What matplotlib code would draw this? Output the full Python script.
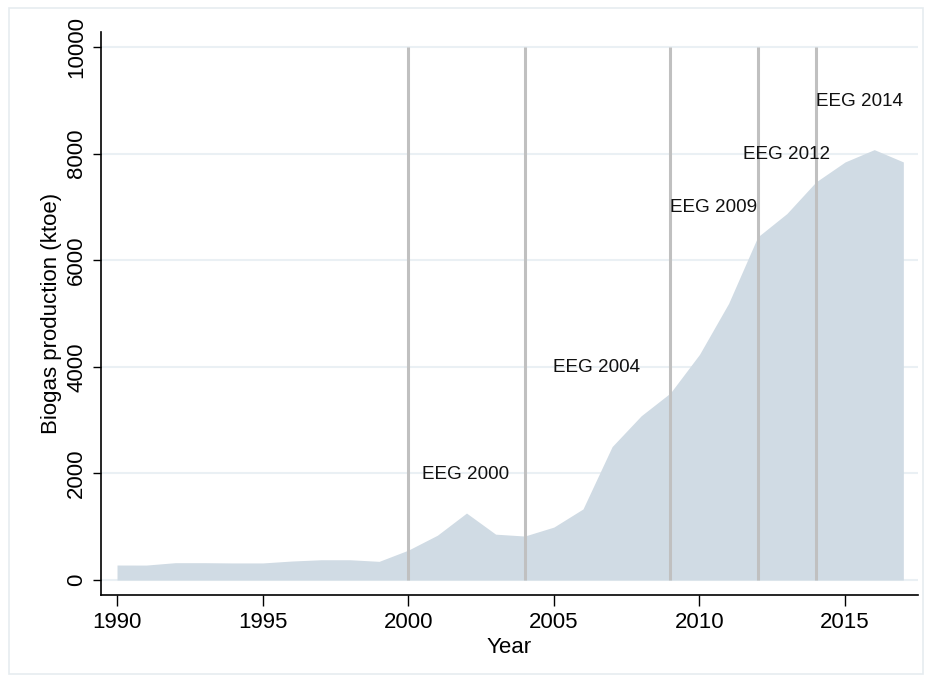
import matplotlib

matplotlib.use("Agg")
import matplotlib.pyplot as plt
from matplotlib.patches import Rectangle

plt.rcParams["font.family"] = ["Liberation Sans", "DejaVu Sans"]

YEARS = list(range(1990, 2018))
BIOGAS_KTOE = [
    281, 280, 325, 325, 320, 320, 356, 380, 380, 350,
    560, 840, 1256, 860, 825, 993, 1333, 2503, 3082, 3509,
    4233, 5190, 6437, 6875, 7469, 7844, 8075, 7844,
]

EEG_YEARS = [2000, 2004, 2009, 2012, 2014]
EEG_LABELS = ["EEG 2000", "EEG 2004", "EEG 2009", "EEG 2012", "EEG 2014"]
LABEL_X = [2000.48, 2004.97, 2008.99, 2011.5, 2014.0]
LABEL_Y = [1980, 3980, 6980, 7980, 8980]

Y_TICKS = [0, 2000, 4000, 6000, 8000, 10000]
X_TICKS = [1990, 1995, 2000, 2005, 2010, 2015]

FILL_COLOR = "#d0dbe4"
LINE_COLOR = "#c0c0c0"
GRID_COLOR = "#eaf0f4"


def main() -> None:
    fig = plt.figure(figsize=(9.3, 6.82), dpi=100)
    fig.patches.append(
        Rectangle((0.010, 0.012), 0.982, 0.976, transform=fig.transFigure,
                  fill=False, edgecolor="#e6ecf0", linewidth=1.2)
    )
    ax = fig.add_axes([0.1086, 0.1276, 0.8784, 0.8254])

    for y in Y_TICKS:
        ax.axhline(y, color=GRID_COLOR, linewidth=1.5, zorder=0)

    ax.fill_between(YEARS, 0, BIOGAS_KTOE, color=FILL_COLOR, linewidth=0, zorder=1)
    ax.vlines(EEG_YEARS, 0, 10000, color=LINE_COLOR, linewidth=2.2, zorder=2)

    for x, y, label in zip(LABEL_X, LABEL_Y, EEG_LABELS):
        ax.text(x, y, label, ha="left", va="center", fontsize=13.6, color="#111111", zorder=3)

    ax.set_xlim(1989.45, 2017.5)
    ax.set_ylim(-281, 10281)
    ax.set_xticks(X_TICKS)
    ax.set_yticks(Y_TICKS)
    ax.tick_params(axis="x", labelsize=16, length=8, width=1, pad=4)
    ax.tick_params(axis="y", labelsize=16, length=6, width=1, pad=4)
    for lbl in ax.get_yticklabels():
        lbl.set_rotation(90)
        lbl.set_va("center")

    ax.spines["top"].set_visible(False)
    ax.spines["right"].set_visible(False)
    ax.spines["left"].set_linewidth(1.2)
    ax.spines["bottom"].set_linewidth(1.2)

    ax.set_xlabel("Year", fontsize=16, labelpad=3)
    ax.set_ylabel("Biogas production (ktoe)", fontsize=16, labelpad=3)

    fig.savefig("out.png", dpi=100)
    plt.close(fig)


if __name__ == "__main__":
    main()
